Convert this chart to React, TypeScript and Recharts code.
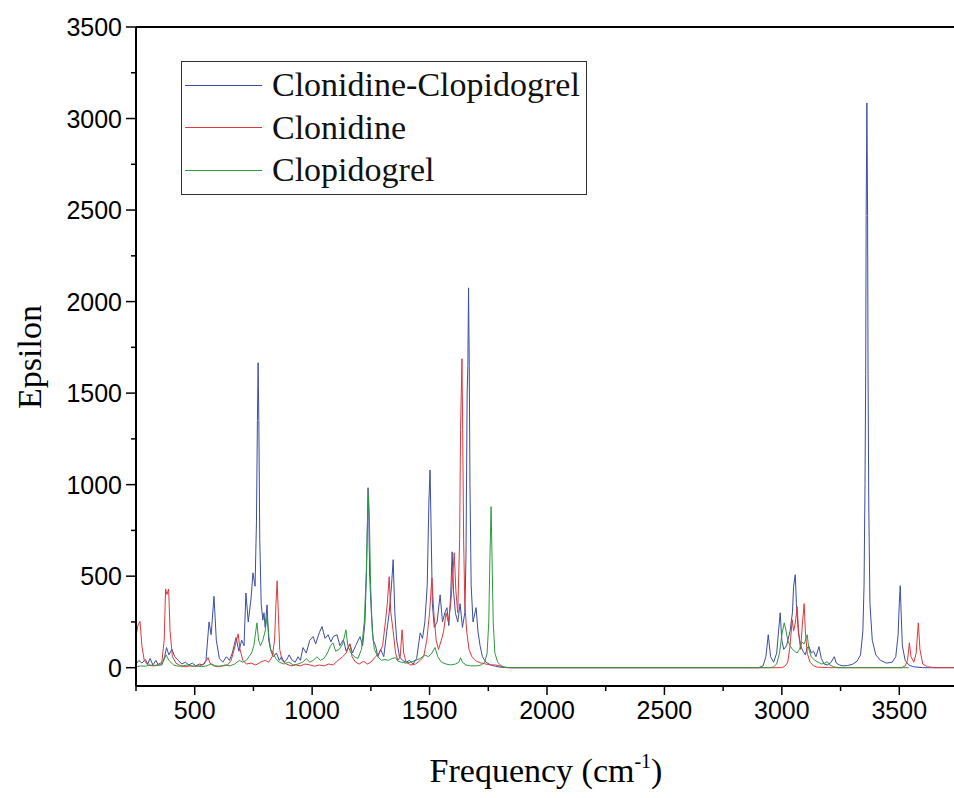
import React from 'react';
import { LineChart, Line, XAxis, YAxis, ReferenceLine } from 'recharts';

// [frequency, epsilon] pairs
const comboSpectrum: number[][] = [
  [250, 20], [262, 40], [275, 25], [290, 45], [300, 20], [310, 50], [322, 15], [335, 40], [345, 15], [360, 15],
  [372, 60], [380, 110], [390, 70], [403, 100], [415, 60], [430, 40], [445, 20], [460, 30], [475, 15], [490, 25],
  [505, 10], [520, 20], [535, 15], [548, 40], [561, 250], [570, 180], [582, 390], [592, 150], [605, 50], [620, 30],
  [635, 60], [648, 40], [660, 80], [676, 165], [688, 90], [700, 150], [710, 120], [718, 408], [728, 250], [740, 380],
  [748, 518], [757, 445], [763, 800], [767, 1350], [770, 1666], [773, 1350], [777, 700], [783, 350], [790, 260],
  [795, 300], [800, 220], [808, 343], [815, 150], [825, 90], [835, 60], [848, 80], [860, 40], [870, 60], [880, 30],
  [890, 40], [902, 70], [915, 40], [928, 30], [940, 60], [950, 40], [961, 110], [975, 80], [990, 150], [1004, 170],
  [1015, 130], [1030, 190], [1042, 225], [1055, 160], [1068, 180], [1080, 140], [1090, 170], [1106, 180], [1118, 120],
  [1133, 153], [1145, 90], [1160, 130], [1172, 80], [1185, 120], [1204, 170], [1215, 120], [1225, 250], [1232, 550],
  [1236, 850], [1238, 983], [1241, 850], [1245, 500], [1252, 300], [1260, 150], [1270, 120], [1280, 60], [1292, 100],
  [1305, 60], [1318, 200], [1328, 300], [1338, 450], [1345, 590], [1352, 300], [1360, 150], [1372, 60], [1385, 40],
  [1400, 30], [1415, 40], [1430, 20], [1445, 50], [1460, 190], [1470, 160], [1480, 250], [1490, 450], [1497, 900],
  [1502, 1080], [1506, 800], [1512, 350], [1520, 220], [1532, 250], [1545, 398], [1555, 250], [1565, 300], [1574, 328],
  [1582, 230], [1590, 400], [1596, 633], [1602, 420], [1610, 300], [1620, 250], [1630, 350], [1640, 220], [1650, 300],
  [1655, 600], [1660, 1500], [1663, 1650], [1666, 2075], [1669, 1650], [1672, 1000], [1677, 450], [1685, 250],
  [1698, 328], [1706, 200], [1715, 120], [1725, 60], [1740, 30], [1760, 15], [1780, 8], [1800, 3], [1850, 0],
  [2900, 0], [2920, 10], [2932, 60], [2942, 180], [2952, 60], [2965, 30], [2978, 80], [2986, 200], [2993, 300],
  [3000, 150], [3008, 100], [3020, 120], [3035, 200], [3045, 300], [3050, 445], [3057, 508], [3062, 350], [3070, 200],
  [3080, 120], [3090, 90], [3100, 70], [3108, 110], [3116, 115], [3125, 80], [3135, 90], [3145, 60], [3158, 115],
  [3168, 50], [3180, 20], [3195, 15], [3210, 30], [3223, 60], [3232, 25], [3245, 15], [3260, 10], [3280, 12],
  [3300, 18], [3320, 35], [3335, 70], [3345, 200], [3350, 450], [3354, 1000], [3357, 1600], [3359, 2470], [3362, 3085],
  [3365, 2470], [3367, 1600], [3370, 900], [3375, 350], [3385, 150], [3400, 70], [3420, 40], [3445, 25], [3470, 30],
  [3485, 60], [3495, 180], [3500, 350], [3504, 448], [3508, 300], [3513, 120], [3525, 40], [3540, 15], [3560, 5],
  [3600, 0], [3750, 0],
];

const clonidineSpectrum: number[][] = [
  [250, 170], [258, 230], [267, 253], [275, 120], [285, 40], [300, 15], [320, 10], [340, 15], [360, 30], [370, 150],
  [376, 430], [382, 400], [389, 430], [395, 200], [405, 60], [420, 25], [440, 10], [460, 5], [480, 10], [500, 8],
  [520, 10], [540, 20], [550, 40], [557, 55], [565, 25], [580, 10], [600, 5], [620, 10], [640, 15], [655, 40],
  [668, 100], [678, 150], [685, 185], [693, 100], [705, 40], [720, 20], [740, 25], [760, 15], [780, 30], [800, 40],
  [815, 30], [830, 60], [840, 150], [846, 350], [851, 475], [856, 300], [862, 100], [872, 40], [890, 20], [910, 10],
  [930, 15], [950, 10], [970, 20], [990, 15], [1010, 8], [1030, 15], [1050, 10], [1070, 20], [1090, 15], [1110, 40],
  [1130, 60], [1145, 80], [1161, 130], [1170, 60], [1185, 30], [1200, 20], [1220, 35], [1235, 20], [1250, 30],
  [1270, 60], [1285, 80], [1300, 120], [1312, 250], [1320, 350], [1328, 497], [1335, 300], [1345, 200], [1355, 80],
  [1365, 40], [1375, 60], [1383, 207], [1390, 80], [1400, 30], [1420, 15], [1440, 20], [1460, 40], [1475, 60],
  [1488, 150], [1500, 300], [1510, 490], [1518, 300], [1528, 150], [1538, 100], [1550, 150], [1560, 200], [1570, 300],
  [1580, 250], [1590, 350], [1596, 450], [1605, 628], [1612, 420], [1620, 300], [1628, 700], [1632, 1300], [1635, 1500],
  [1638, 1688], [1641, 1300], [1645, 700], [1650, 350], [1658, 200], [1668, 100], [1680, 60], [1700, 35], [1720, 25],
  [1740, 20], [1760, 15], [1780, 15], [1800, 10], [1813, 3], [1830, 0], [3000, 0], [3015, 10], [3025, 30], [3035, 120],
  [3044, 262], [3050, 200], [3058, 250], [3065, 333], [3072, 180], [3080, 100], [3088, 250], [3095, 350], [3100, 200],
  [3108, 80], [3120, 30], [3135, 10], [3150, 3], [3200, 0], [3510, 0], [3525, 10], [3535, 40], [3543, 136], [3550, 60],
  [3562, 30], [3572, 80], [3581, 245], [3588, 100], [3600, 20], [3620, 5], [3650, 0], [3750, 0],
];

const clopidogrelSpectrum: number[][] = [
  [250, 5], [270, 10], [290, 8], [310, 15], [330, 10], [350, 15], [365, 30], [378, 70], [390, 40], [410, 15],
  [430, 8], [450, 10], [470, 15], [490, 8], [510, 10], [530, 5], [550, 10], [570, 20], [590, 10], [610, 8],
  [630, 15], [650, 10], [670, 20], [690, 40], [705, 30], [720, 40], [731, 60], [742, 80], [752, 120], [760, 200],
  [765, 245], [772, 150], [780, 120], [790, 150], [800, 200], [808, 280], [815, 180], [823, 100], [835, 80], [845, 50],
  [860, 30], [880, 20], [900, 30], [920, 15], [940, 20], [960, 30], [975, 50], [990, 30], [1005, 40], [1020, 60],
  [1035, 40], [1050, 50], [1065, 80], [1078, 120], [1089, 136], [1100, 90], [1115, 100], [1130, 130], [1144, 207],
  [1152, 120], [1165, 80], [1180, 60], [1195, 50], [1210, 100], [1222, 250], [1230, 500], [1236, 800], [1240, 945],
  [1244, 800], [1249, 450], [1256, 200], [1265, 100], [1280, 60], [1295, 40], [1310, 45], [1325, 40], [1340, 50],
  [1355, 55], [1365, 35], [1380, 30], [1400, 25], [1420, 30], [1440, 40], [1460, 50], [1480, 70], [1495, 60],
  [1510, 80], [1523, 110], [1535, 60], [1550, 30], [1570, 20], [1590, 15], [1610, 20], [1625, 30], [1632, 55],
  [1640, 30], [1655, 15], [1675, 10], [1700, 10], [1720, 15], [1735, 30], [1745, 80], [1752, 250], [1757, 600],
  [1762, 880], [1766, 600], [1771, 250], [1778, 80], [1790, 30], [1805, 10], [1820, 3], [1840, 0], [2950, 0],
  [2965, 5], [2978, 20], [2990, 80], [3000, 180], [3010, 245], [3018, 200], [3025, 150], [3035, 120], [3045, 100],
  [3055, 90], [3065, 80], [3075, 100], [3085, 140], [3095, 130], [3108, 180], [3115, 100], [3125, 60], [3140, 40],
  [3155, 30], [3170, 20], [3183, 25], [3193, 33], [3205, 15], [3220, 5], [3240, 0], [3540, 0],
];

const xTicks = [250, 500, 750, 1000, 1250, 1500, 1750, 2000, 2250, 2500, 2750, 3000, 3250, 3500, 3750];
const yTicks = [0, 250, 500, 750, 1000, 1250, 1500, 1750, 2000, 2250, 2500, 2750, 3000, 3250, 3500];

const seriesNames = ['Clonidine-Clopidogrel', 'Clonidine', 'Clopidogrel'];
const seriesColors = ['#3b4ea0', '#e0383c', '#2e9a40'];

const toRows = (pts: number[][]) => pts.map(([f, e]) => ({ freq: f, eps: e }));

const XTick = (props: any) => {
  const { x, y, payload } = props;
  const major = payload.value % 500 === 0;
  return (
    <g>
      <line x1={x} y1={y} x2={x} y2={y + (major ? 9 : 5)} stroke="#000" strokeWidth={1.5} />
      {major && (
        <text x={x} y={y + 33} textAnchor="middle" fontSize={25} fill="#000"
          fontFamily="'Liberation Sans', Arial, sans-serif">
          {payload.value}
        </text>
      )}
    </g>
  );
};

const YTick = (props: any) => {
  const { x, y, payload } = props;
  const major = payload.value % 500 === 0;
  return (
    <g>
      <line x1={x} y1={y} x2={x - (major ? 10 : 5)} y2={y} stroke="#000" strokeWidth={1.5} />
      {major && (
        <text x={x - 14} y={y + 9} textAnchor="end" fontSize={25} fill="#000"
          fontFamily="'Liberation Sans', Arial, sans-serif">
          {payload.value}
        </text>
      )}
    </g>
  );
};

const serif = "'Liberation Serif', 'Times New Roman', serif";

export default function App() {
  const data = [comboSpectrum, clonidineSpectrum, clopidogrelSpectrum].map(toRows);
  return (
    <div style={{ position: 'fixed', left: 0, top: 0, width: 954, height: 798, overflow: 'hidden', background: '#fff' }}>
      <LineChart width={962} height={798} margin={{ top: 27, right: 4, bottom: 0, left: 0 }}>
        <XAxis
          dataKey="freq"
          type="number"
          domain={[250, 3750]}
          ticks={xTicks}
          interval={0}
          allowDataOverflow
          tick={<XTick />}
          tickLine={false}
          tickSize={0}
          tickMargin={0}
          axisLine={{ stroke: '#000', strokeWidth: 2 }}
          height={112}
        />
        <YAxis
          type="number"
          domain={[-100, 3500]}
          ticks={yTicks}
          interval={0}
          allowDataOverflow
          tick={<YTick />}
          tickLine={false}
          tickSize={0}
          tickMargin={0}
          axisLine={{ stroke: '#000', strokeWidth: 2 }}
          width={136}
        />
        <ReferenceLine y={3500} stroke="#000" strokeWidth={2} ifOverflow="visible" />
        {data.map((rows, i) => (
          <Line
            key={seriesNames[i]}
            data={rows}
            dataKey="eps"
            name={seriesNames[i]}
            type="linear"
            stroke={seriesColors[i]}
            strokeWidth={1}
            dot={false}
            isAnimationActive={false}
          />
        ))}
      </LineChart>

      <div style={{
        position: 'absolute', left: 30, top: 357, transform: 'translate(-50%, -50%) rotate(-90deg)',
        fontFamily: serif, fontSize: 34, whiteSpace: 'nowrap', color: '#000',
      }}>
        Epsilon
      </div>
      <div style={{
        position: 'absolute', left: 546, top: 752, transform: 'translateX(-50%)',
        fontFamily: serif, fontSize: 34, whiteSpace: 'nowrap', color: '#000',
      }}>
        Frequency (cm<sup style={{ fontSize: 20, position: 'relative', top: -2 }}>-1</sup>)
      </div>

      <div style={{
        position: 'absolute', left: 181, top: 61, width: 406, height: 134, border: '1px solid #333',
        background: '#fff', boxSizing: 'border-box', paddingTop: 2,
      }}>
        {seriesNames.map((n, i) => (
          <div key={n} style={{ display: 'flex', alignItems: 'center', height: 42.5 }}>
            <div style={{ width: 77, height: 0, borderTop: `1px solid ${seriesColors[i]}`, marginLeft: 3, marginRight: 10 }} />
            <span style={{ fontFamily: serif, fontSize: 34, color: '#111', lineHeight: '42px' }}>{n}</span>
          </div>
        ))}
      </div>
    </div>
  );
}
